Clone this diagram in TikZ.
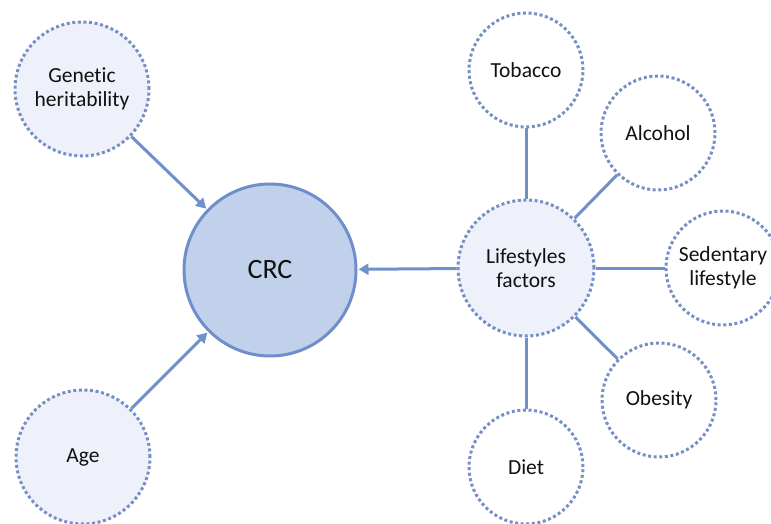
\documentclass[tikz,border=0pt]{standalone}
\usepackage{fontspec}
\setmainfont[Ligatures=NoCommon]{Carlito}
\usetikzlibrary{arrows.meta}
\definecolor{crcfill}{HTML}{C1D1EC}
\definecolor{crcline}{HTML}{6F8FCB}
\definecolor{lightfill}{HTML}{EEF1F9}
\definecolor{dotline}{HTML}{7690C4}
\definecolor{conn}{HTML}{6E90CB}
\definecolor{txt}{HTML}{111111}
\tikzset{
  crcnode/.style={circle, draw=crcline, line width=3pt, fill=crcfill, minimum size=172pt, inner sep=0pt, font=\fontsize{28}{30}\selectfont, text=txt},
  factor/.style={circle, draw=dotline, line width=3pt, dash pattern=on 3pt off 2.6pt, minimum size=#1, inner sep=0pt, align=center, font=\fontsize{21.5}{24.5}\selectfont, text=txt},
  bignode/.style={factor=134pt, fill=lightfill},
  midnode/.style={factor=136pt, fill=lightfill},
  smallnode/.style={factor=114pt, fill=white},
  arrowline/.style={draw=conn, line width=3pt, -{Triangle[length=10pt,width=11pt]}, shorten >=1pt},
  plainline/.style={draw=conn, line width=3pt}
}
\begin{document}
\begin{tikzpicture}[x=1pt,y=-1pt]
\useasboundingbox (0,0) rectangle (771,524);
\node[crcnode] (crc) at (270,270) {CRC};
\node[bignode] (gen) at (82,89) {Genetic\\heritability};
\node[bignode] (age) at (83,457) {Age};
\node[midnode] (life) at (526,268) {Lifestyles\\factors};
\node[smallnode] (tob) at (526,70) {Tobacco};
\node[smallnode] (alc) at (658,133) {Alcohol};
\node[smallnode] (sed) at (723,268) {Sedentary\\lifestyle};
\node[smallnode] (obe) at (659,400) {Obesity};
\node[smallnode] (diet) at (526,467) {Diet};
\draw[arrowline] (gen) -- (crc);
\draw[arrowline] (age) -- (crc);
\draw[arrowline] (life) -- (crc);
\draw[plainline] (life) -- (tob);
\draw[plainline] (life) -- (alc);
\draw[plainline] (life) -- (sed);
\draw[plainline] (life) -- (obe);
\draw[plainline] (life) -- (diet);
\end{tikzpicture}
\end{document}
